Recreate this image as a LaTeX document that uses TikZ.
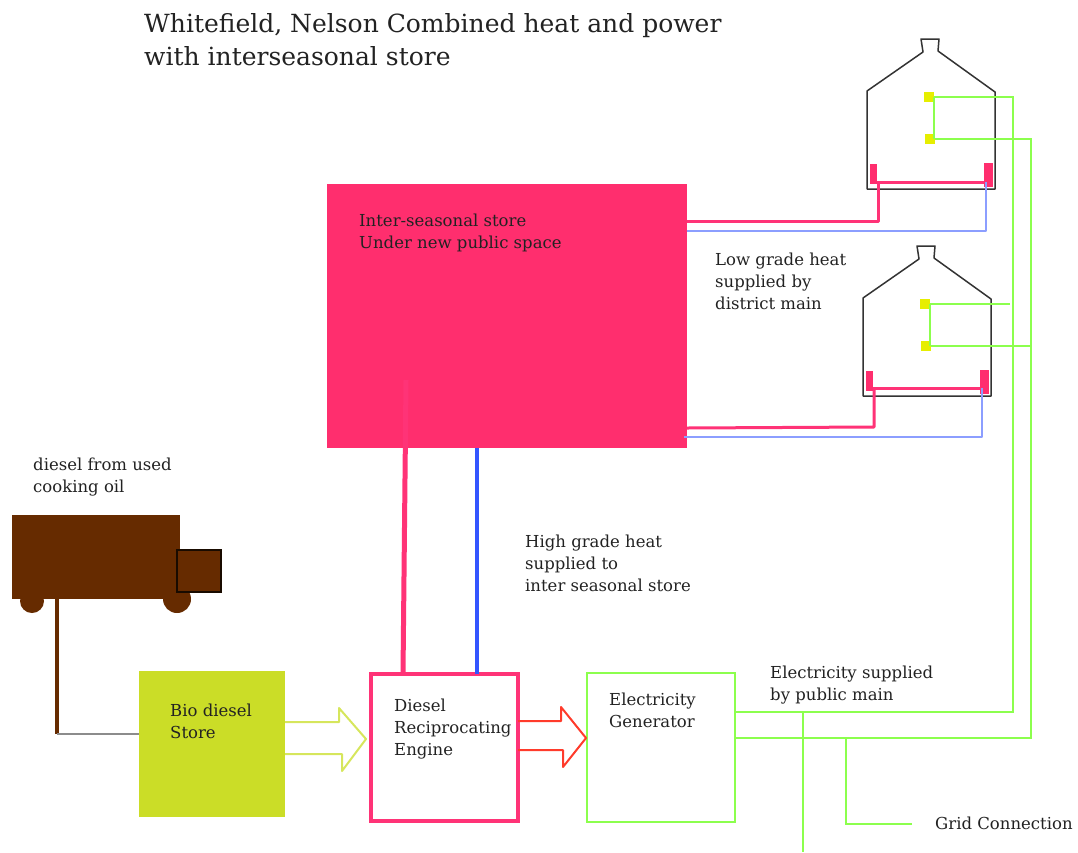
\documentclass[tikz,border=0pt]{standalone}
\usepackage{fontspec}
\setmainfont{DejaVu Serif}
\usetikzlibrary{positioning, calc}

\definecolor{storepink}{HTML}{FF2E6E}
\definecolor{hotpink}{HTML}{FF3377}
\definecolor{biogreen}{HTML}{CBDD27}
\definecolor{truckbrown}{HTML}{662B00}
\definecolor{switchyellow}{HTML}{E6EE00}
\definecolor{wiregreen}{HTML}{8CFF4D}
\definecolor{paleblue}{HTML}{8C9EFF}
\definecolor{deepblue}{HTML}{3355FF}
\definecolor{fuelyellow}{HTML}{D6E65C}
\definecolor{redarrow}{HTML}{FF3B2B}
\definecolor{inkgrey}{HTML}{222222}

\begin{document}
\begin{tikzpicture}[
  x=1pt, y=-1pt,
  box/.style={minimum width=#1, minimum height=#1, inner sep=0pt, outer sep=0pt},
  txt/.style={anchor=north west, align=left, inner sep=0pt, text=inkgrey, font=\fontsize{16.5}{22}\selectfont},
  hotmain/.style={draw=hotpink, line width=5pt},
  coldmain/.style={draw=deepblue, line width=4pt},
  hotpipe/.style={draw=hotpink, line width=3pt, line join=round},
  coldpipe/.style={draw=paleblue, line width=2.4pt, line join=round},
  elec/.style={draw=wiregreen, line width=2pt},
  radiator/.style={fill=storepink, inner sep=0pt, outer sep=0pt},
  switchbox/.style={fill=switchyellow, minimum size=10pt, inner sep=0pt, outer sep=0pt},
  wheel/.style={circle, fill=truckbrown, inner sep=0pt, outer sep=0pt}
]
\useasboundingbox (0,0) rectangle (1078,852);

% Title
\node[txt, font=\fontsize{25}{33}\selectfont] (title) at (144,13) {Whitefield, Nelson Combined heat and power\\with interseasonal store};

% Row 1: inter-seasonal store
\node[box=264pt, minimum width=360pt, fill=storepink] (store) at (507,316) {};
\node[txt, below right=30pt and 32pt of store.north west] (storetxt) {Inter-seasonal store\\Under new public space};

% Row 2: truck, fuel store, engine, generator
\node[box=146pt, fill=biogreen] (biostore) at (212,744) {};
\node[box=147pt, draw=hotpink, line width=4pt, right=86pt of biostore, yshift=-3.5pt] (engine) {};
\node[box=149pt, minimum width=148pt, draw=wiregreen, line width=2pt, right=69pt of engine] (generator) {};
\node[txt, below right=33pt and 31pt of biostore.north west] (biotxt) {Bio diesel\\Store};
\node[txt, below right=25pt and 23pt of engine.north west] (enginetxt) {Diesel\\Reciprocating\\Engine};
\node[txt, below right=20pt and 22pt of generator.north west] (gentxt) {Electricity\\Generator};

% Truck (wheels first, cab on top)
\node[wheel, minimum size=24pt] (wheelrear) at (32,601) {};
\node[wheel, minimum size=28pt] (wheelfront) at (177,599) {};
\node[box=84pt, minimum width=168pt, fill=truckbrown] (truck) at (96,557) {};
\node[box=42pt, minimum width=44pt, fill=truckbrown, draw=black!75!truckbrown, line width=1.2pt] (cab) at (199,571) {};
\node[txt] (trucktxt) at (33,458) {diesel from used\\cooking oil};

% Houses, second one is the first moved down
\foreach \h/\dx/\dy in {a/0/0, b/-4/207} {
  \begin{scope}[shift={(\dx,\dy)}]
  \draw[black!80, line width=1.5pt, line join=round] (867,189) -- (867,91) -- (923,52) -- (921,39) -- (939,39) -- (938,51) -- (995,92) -- (995,189) -- cycle;
  \node[radiator, minimum width=7pt, minimum height=20pt] (rad\h l) at (873,174) {};
  \node[radiator, minimum width=9pt, minimum height=24pt] (rad\h r) at (988.5,175) {};
  \node[switchbox] (sw\h t) at (929,97) {};
  \node[switchbox] (sw\h b) at (930,139) {};
  \end{scope}
}

% Low grade heat: store to houses
\draw[hotpipe] (store.east |- 0,221) -- (878,221) -- (878,182);
\draw[hotpipe] (radal.south east |- 0,182) -- (radar.south west |- 0,182);
\draw[coldpipe] (store.east |- 0,231) -- (986,231) -- (986,182);
\draw[hotpipe] (store.east |- 0,428) -- (874,427) -- (874,388);
\draw[hotpipe] (radbl.south east |- 0,388) -- (radbr.south west |- 0,388);
\draw[coldpipe] (684,437) -- (982,437) -- (982,388);

% High grade heat: engine to store
\draw[hotmain] (engine.north -| 403,0) -- (406,380);
\draw[coldmain] (engine.north -| 477,0) -- (store.south -| 477,0);

% Fuel line
\coordinate (pipeturn) at (57,734);
\draw[truckbrown, line width=3.5pt] (truck.south -| pipeturn) -- (pipeturn);
\draw[black!45, line width=2.5pt] (pipeturn) -- (biostore.west |- pipeturn);

% Block arrows
\coordinate (fueltip) at (366,739);
\coordinate (redtip) at (586,738);
\draw[fuelyellow, line width=2pt, line join=round] (biostore.east |- 0,722) -- (339,722) -- (339,708) -- (fueltip) -- (342,771) -- (342,754) -- (biostore.east |- 0,754);
\draw[redarrow, line width=2pt, line join=round] (engine.east |- 0,721) -- (561,721) -- (561,707) -- (redtip) -- (563,767) -- (563,750) -- (engine.east |- 0,750);

% Wiring
\draw[elec] (swat.east) -- (swat.east |- swab);
\draw[elec] (swat.east) -- (1013,97) -- (1013,712) -- (generator.east |- 0,712);
\draw[elec] (swab.east) -- (1031,139) -- (1031,738) -- (generator.east |- 0,738);
\draw[elec] (swbt.east) -- (swbt.east |- swbb);
\coordinate (wireendt) at (1010,304);
\coordinate (wireendb) at (1030,346);
\draw[elec] (swbt.east) -- (wireendt);
\draw[elec] (swbb.east) -- (wireendb);
\coordinate (drophigh) at (803,712);
\coordinate (droplow) at (803,852);
\draw[elec] (drophigh) -- (droplow);
\coordinate (gridtop) at (846,738);
\coordinate (gridend) at (912,824);
\draw[elec] (gridtop) |- (gridend);

% Remaining labels
\node[txt] (lowtxt) at (715,253) {Low grade heat\\supplied by\\district main};
\node[txt] (hightxt) at (525,535) {High grade heat\\supplied to\\inter seasonal store};
\node[txt] (electxt) at (770,666) {Electricity supplied\\by public main};
\node[txt] (gridtxt) at (935,817) {Grid Connection};
\end{tikzpicture}
\end{document}
